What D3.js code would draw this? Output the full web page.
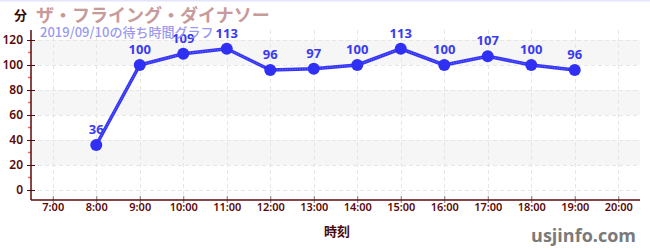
<!DOCTYPE html>
<html><head><meta charset="utf-8">
<script src="https://cdn.jsdelivr.net/npm/d3@7"></script>
<style>
html,body{margin:0;padding:0;background:#fff;}
svg{display:block;font-family:"Noto Sans CJK JP","Noto Sans",sans-serif;}
</style></head>
<body>
<svg id="c" width="650" height="250"></svg>
<script>
const hours = [8, 9, 10, 11, 12, 13, 14, 15, 16, 17, 18, 19];
const waits = [36, 100, 109, 113, 96, 97, 100, 113, 100, 107, 100, 96];
const xTicks = [7, 8, 9, 10, 11, 12, 13, 14, 15, 16, 17, 18, 19, 20];
const yTicks = [0, 20, 40, 60, 80, 100, 120];
const yMinorTicks = [10, 30, 50, 70, 90, 110];
const bands = [[20, 40], [60, 80], [100, 120]];
const title = "ザ・フライング・ダイナソー";
const subtitle = "2019/09/10の待ち時間グラフ";
const yTitle = "分";
const xTitle = "時刻";
const credit = "usjinfo.com";

const svg = d3.select("#c");
const L = 31, R = 640, T = 30, B = 200;
const x = d3.scaleLinear().domain([6.5, 20.5]).range([L, R]);
const y = d3.scaleLinear().domain([-8, 128]).range([B, T]);
const axisColor = "#5a0a0a";

// top border
svg.append("rect").attr("x", 0).attr("y", 0).attr("width", 650).attr("height", 1.5).attr("fill", "#e4e4fa");

// bands
svg.append("g").selectAll("rect").data(bands).join("rect")
  .attr("x", L).attr("width", R - L)
  .attr("y", d => y(d[1])).attr("height", d => y(d[0]) - y(d[1]))
  .attr("fill", "#f6f6f6");

// grid
const grid = svg.append("g").attr("stroke", "#e6e6e6").attr("stroke-dasharray", "4,3").attr("stroke-width", 1);
grid.selectAll(".gx").data(xTicks).join("line")
  .attr("x1", d => Math.round(x(d)) + 0.5).attr("x2", d => Math.round(x(d)) + 0.5)
  .attr("y1", T).attr("y2", B);
grid.selectAll(".gy").data(yTicks).join("line")
  .attr("x1", L).attr("x2", R)
  .attr("y1", d => Math.round(y(d)) + 0.5).attr("y2", d => Math.round(y(d)) + 0.5);

// y axis
const yAxis = svg.append("g").attr("transform", `translate(${L},0)`)
  .call(d3.axisLeft(y).tickValues(yTicks).tickSize(4).tickPadding(4));
yAxis.select(".domain").remove();
yAxis.selectAll(".tick line").attr("x1", 4).attr("x2", -4).attr("stroke", axisColor);
yAxis.selectAll("text").attr("fill", axisColor).style("font-size", "12px").style("font-weight", "600").style("font-family", "'Noto Sans',sans-serif");
svg.append("g").selectAll("line").data(yMinorTicks).join("line")
  .attr("x1", L - 3).attr("x2", L).attr("y1", d => y(d)).attr("y2", d => y(d))
  .attr("stroke", "#f06060").attr("stroke-width", 1.5);
svg.append("line").attr("x1", L).attr("x2", L).attr("y1", T).attr("y2", B).attr("stroke", axisColor).attr("stroke-width", 1.5);

// x axis
const xAxis = svg.append("g").attr("transform", `translate(0,${B})`)
  .call(d3.axisBottom(x).tickValues(xTicks).tickFormat(d => d + ":00").tickSize(4).tickPadding(3));
xAxis.select(".domain").remove();
xAxis.selectAll(".tick line").attr("y1", -4).attr("y2", 3).attr("stroke", "#777");
xAxis.selectAll("text").attr("y", 3).attr("fill", axisColor).style("font-size", "11px").style("font-weight", "600").style("font-family", "'Noto Sans',sans-serif");
svg.append("line").attr("x1", L).attr("x2", R).attr("y1", B).attr("y2", B).attr("stroke", axisColor).attr("stroke-width", 1.5);

// line
const line = d3.line().x((d, i) => x(hours[i])).y(d => y(d));
svg.append("path").datum(waits).attr("d", line).attr("fill", "none")
  .attr("stroke", "#3535f5").attr("stroke-width", 3.5).attr("stroke-linejoin", "round");
svg.append("path").datum(waits).attr("d", line).attr("fill", "none")
  .attr("stroke", "#8a8aff").attr("stroke-width", 1).attr("stroke-dasharray", "1,1.5").attr("opacity", 0.7);

// points
svg.append("g").selectAll("circle").data(waits).join("circle")
  .attr("cx", (d, i) => x(hours[i])).attr("cy", d => y(d)).attr("r", 6)
  .attr("fill", "#3030f5");

// labels
svg.append("g").selectAll("text").data(waits).join("text")
  .attr("x", (d, i) => x(hours[i])).attr("y", d => y(d) - 11)
  .attr("text-anchor", "middle").attr("fill", "#3a3af0")
  .style("font-size", "13px").style("font-weight", "700").style("font-family", "'Noto Sans',sans-serif")
  .text(d => d);

// titles
svg.append("text").attr("x", 36).attr("y", 22).attr("fill", "#c89a9a")
  .style("font-size", "18px").style("font-weight", "700").text(title);
svg.append("text").attr("x", 40).attr("y", 37).attr("fill", "#9a9af0")
  .style("font-size", "13px").style("font-weight", "500").text(subtitle);
svg.append("text").attr("x", 14).attr("y", 20).attr("fill", "#3a0a0a")
  .style("font-size", "13px").style("font-weight", "700").text(yTitle);
svg.append("text").attr("x", 337).attr("y", 236).attr("text-anchor", "middle").attr("fill", "#4a0a0a")
  .style("font-size", "13px").style("font-weight", "700").text(xTitle);
svg.append("text").attr("x", 636).attr("y", 242).attr("text-anchor", "end").attr("fill", "#7a7a7a")
  .style("font-size", "18px").style("font-weight", "700").style("font-family", "'Open Sans','Noto Sans',sans-serif").text(credit);
</script>
</body></html>
